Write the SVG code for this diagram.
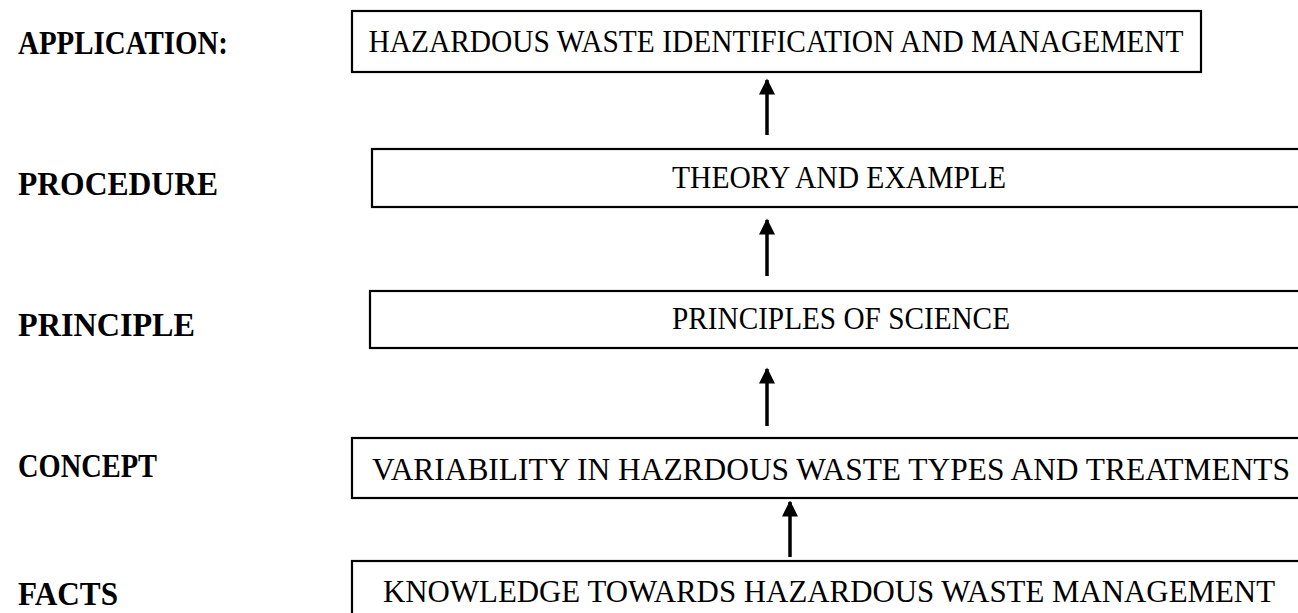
<svg xmlns="http://www.w3.org/2000/svg" width="1298" height="613" viewBox="0 0 1298 613">
  <style>
    .lbl { font-family: "Liberation Serif", "DejaVu Serif", serif; font-weight: bold; font-size: 33px; fill: #000; }
    .box { fill: #fff; stroke: #000; stroke-width: 2.2; }
    .txt { font-family: "Liberation Serif", "Times New Roman", serif; font-size: 31px; fill: #000; }
    .link { stroke: #000; stroke-width: 3.5; fill: none; marker-end: url(#head); }
  </style>
  <defs>
    <marker id="head" viewBox="0 0 10 10" refX="9" refY="5" markerWidth="4.8" markerHeight="4.6" orient="auto" markerUnits="strokeWidth">
      <path d="M0,0 L10,5 L0,10 z" fill="#000"/>
    </marker>
  </defs>
  <rect width="1298" height="613" fill="#fff"/>

  <!-- level labels -->
  <g id="labels">
    <text class="lbl" x="18" y="54" textLength="210" lengthAdjust="spacingAndGlyphs">APPLICATION:</text>
    <text class="lbl" x="18" y="195" textLength="200" lengthAdjust="spacingAndGlyphs">PROCEDURE</text>
    <text class="lbl" x="18" y="336" textLength="177" lengthAdjust="spacingAndGlyphs">PRINCIPLE</text>
    <text class="lbl" x="18" y="477" textLength="139" lengthAdjust="spacingAndGlyphs">CONCEPT</text>
    <text class="lbl" x="18" y="605" textLength="100" lengthAdjust="spacingAndGlyphs">FACTS</text>
  </g>

  <g id="application">
    <rect class="box" x="352" y="11" width="849" height="61"/>
    <text class="txt" x="776" y="52" text-anchor="middle" textLength="815" lengthAdjust="spacingAndGlyphs">HAZARDOUS WASTE IDENTIFICATION AND MANAGEMENT</text>
  </g>

  <g id="procedure">
    <rect class="box" x="372" y="149" width="940" height="58"/>
    <text class="txt" x="839" y="188" text-anchor="middle" textLength="334" lengthAdjust="spacingAndGlyphs">THEORY AND EXAMPLE</text>
  </g>

  <g id="principle">
    <rect class="box" x="370" y="291" width="940" height="57"/>
    <text class="txt" x="841" y="329" text-anchor="middle" textLength="338" lengthAdjust="spacingAndGlyphs">PRINCIPLES OF SCIENCE</text>
  </g>

  <g id="concept">
    <rect class="box" x="352" y="438" width="960" height="60"/>
    <text class="txt" x="372" y="480" textLength="918" lengthAdjust="spacingAndGlyphs">VARIABILITY IN HAZRDOUS WASTE TYPES AND TREATMENTS</text>
  </g>

  <g id="facts">
    <rect class="box" x="352" y="561" width="960" height="70"/>
    <text class="txt" x="383" y="602" textLength="892" lengthAdjust="spacingAndGlyphs">KNOWLEDGE TOWARDS HAZARDOUS WASTE MANAGEMENT</text>
  </g>

  <!-- upward connectors between levels -->
  <g id="connectors">
    <line class="link" x1="767" y1="135" x2="767" y2="80"/>
    <line class="link" x1="767" y1="276" x2="767" y2="220"/>
    <line class="link" x1="767" y1="426" x2="767" y2="369"/>
    <line class="link" x1="790" y1="557" x2="790" y2="502"/>
  </g>
</svg>
